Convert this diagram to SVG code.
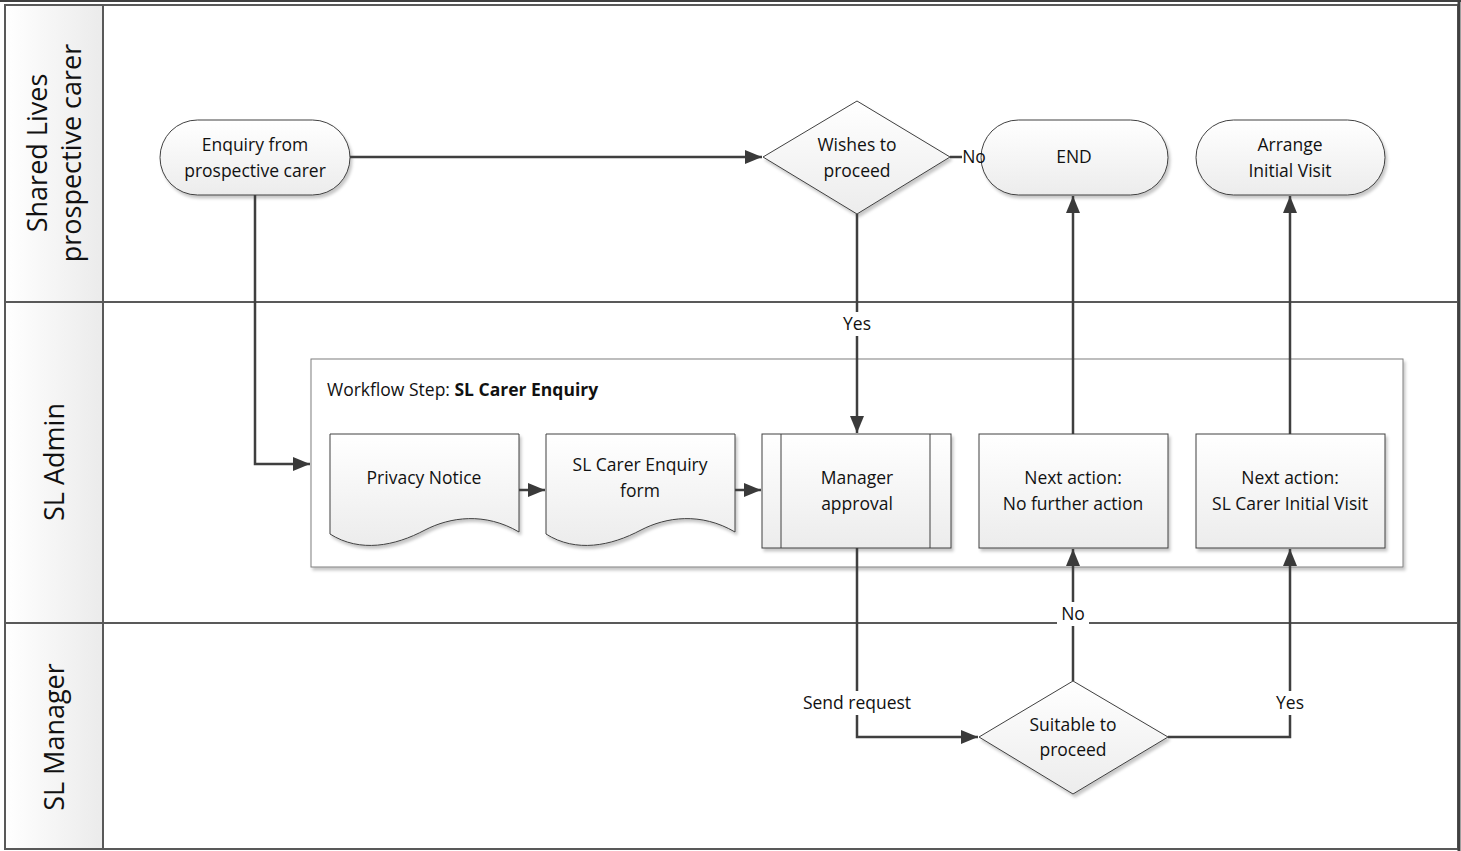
<svg xmlns="http://www.w3.org/2000/svg" width="1461" height="851" viewBox="0 0 1461 851">
<defs>
<linearGradient id="nodeFill" x1="0" y1="0" x2="0" y2="1"><stop offset="0" stop-color="#ffffff"/><stop offset="1" stop-color="#ececec"/></linearGradient>
<linearGradient id="hdrFill" x1="0" y1="0" x2="1" y2="0"><stop offset="0" stop-color="#ffffff"/><stop offset="1" stop-color="#ebebeb"/></linearGradient>
<filter id="sh" x="-10%" y="-10%" width="130%" height="130%"><feDropShadow dx="2" dy="3" stdDeviation="1.5" flood-color="#000" flood-opacity="0.22"/></filter>
<marker id="arr" markerWidth="17" markerHeight="14" viewBox="0 0 17 14" refX="17" refY="7" orient="auto" markerUnits="userSpaceOnUse"><path d="M0,0 L17,7 L0,14 z" fill="#3a3a3a"/></marker>
<style>
.lane{fill:none;stroke:#595959;stroke-width:2}
.hdr{fill:url(#hdrFill);stroke:#595959;stroke-width:2}
.node{fill:url(#nodeFill);stroke:#404040;stroke-width:1;filter:url(#sh)}
.cont{fill:#fff;stroke:#7f7f7f;stroke-width:1;filter:url(#sh)}
.t{font-family:"Open Sans","Liberation Sans",sans-serif;font-size:17.5px;fill:#111;text-anchor:middle}
.lt{font-family:"Open Sans","Liberation Sans",sans-serif;font-size:27px;fill:#111;text-anchor:middle}
.c{fill:none;stroke:#3f3f3f;stroke-width:2.5}
.lbl{font-family:"Open Sans","Liberation Sans",sans-serif;font-size:17.5px;fill:#111;text-anchor:middle}
</style>
</defs>
<rect width="1461" height="851" fill="#fff"/>
<g id="pool">
<line x1="0" y1="1" x2="1461" y2="1" stroke="#404040" stroke-width="2"/>
<rect class="hdr" x="5" y="5" width="98" height="297"/>
<rect class="hdr" x="5" y="302" width="98" height="321"/>
<rect class="hdr" x="5" y="623" width="98" height="226"/>
<rect class="lane" x="5" y="5" width="1453" height="844"/>
<line class="lane" x1="5" y1="302" x2="1458" y2="302"/>
<line class="lane" x1="5" y1="623" x2="1458" y2="623"/>
<line x1="1459" y1="0" x2="1459" y2="851" stroke="#404040" stroke-width="3"/>
<text class="lt" transform="translate(54,153) rotate(-90)"><tspan x="0" y="-7">Shared Lives</tspan><tspan x="0" y="27">prospective carer</tspan></text>
<text class="lt" transform="translate(64,462) rotate(-90)">SL Admin</text>
<text class="lt" transform="translate(64,737) rotate(-90)">SL Manager</text>
</g>
<g id="container">
<rect class="cont" x="311" y="359" width="1092" height="208"/>
<text x="327" y="396" font-family="'Open Sans','Liberation Sans',sans-serif" font-size="17.5" fill="#111">Workflow Step: <tspan font-weight="bold">SL Carer Enquiry</tspan></text>
</g>
<g id="enquiry">
<rect class="node" x="160" y="120" width="190" height="75" rx="37.5"/>
<text class="t"><tspan x="255" y="151">Enquiry from</tspan><tspan x="255" y="177">prospective carer</tspan></text>
</g>
<g id="wishes">
<polygon class="node" points="857,101 950,157 857,214 763,157"/>
<text class="t"><tspan x="857" y="151">Wishes to</tspan><tspan x="857" y="177">proceed</tspan></text>
</g>
<g id="end">
<rect class="node" x="981" y="120" width="187" height="75" rx="37.5"/>
<text class="t" x="1074" y="163">END</text>
</g>
<g id="arrange">
<rect class="node" x="1196" y="120" width="189" height="75" rx="37.5"/>
<text class="t"><tspan x="1290" y="151">Arrange</tspan><tspan x="1290" y="177">Initial Visit</tspan></text>
</g>
<g id="privacy">
<path class="node" d="M330,434 H519 V532 C485,512 450,517 425,530 C395,546 360,553 330,534 Z"/>
<text class="t" x="424" y="484">Privacy Notice</text>
</g>
<g id="enquiryform">
<path class="node" d="M546,434 H735 V532 C701,512 666,517 641,530 C611,546 576,553 546,534 Z"/>
<text class="t"><tspan x="640" y="471">SL Carer Enquiry</tspan><tspan x="640" y="497">form</tspan></text>
</g>
<g id="manager">
<rect class="node" x="762" y="434" width="189" height="114"/>
<line x1="781" y1="434" x2="781" y2="548" stroke="#404040" stroke-width="1"/>
<line x1="930" y1="434" x2="930" y2="548" stroke="#404040" stroke-width="1"/>
<text class="t"><tspan x="857" y="484">Manager</tspan><tspan x="857" y="510">approval</tspan></text>
</g>
<g id="nofurther">
<rect class="node" x="979" y="434" width="189" height="114"/>
<text class="t"><tspan x="1073" y="484">Next action:</tspan><tspan x="1073" y="510">No further action</tspan></text>
</g>
<g id="initialvisit">
<rect class="node" x="1196" y="434" width="189" height="114"/>
<text class="t"><tspan x="1290" y="484">Next action:</tspan><tspan x="1290" y="510">SL Carer Initial Visit</tspan></text>
</g>
<g id="suitable">
<polygon class="node" points="1073,681 1168,737 1073,794 979,737"/>
<text class="t"><tspan x="1073" y="731">Suitable to</tspan><tspan x="1073" y="756">proceed</tspan></text>
</g>
<g id="connectors">
<path class="c" d="M350,157 H762" marker-end="url(#arr)"/>
<path class="c" d="M255,195 V464 H310" marker-end="url(#arr)"/>
<path class="c" d="M519,490 H545" marker-end="url(#arr)"/>
<path class="c" d="M735,490 H761" marker-end="url(#arr)"/>
<path class="c" d="M857,214 V433" marker-end="url(#arr)"/>
<rect x="838" y="312" width="38" height="24" fill="#fff"/>
<text class="lbl" x="857" y="330">Yes</text>
<path class="c" d="M950,157 H962"/>
<text class="lbl" x="974" y="163">No</text>
<path class="c" d="M857,548 V737 H978" marker-end="url(#arr)"/>
<rect x="796" y="691" width="122" height="24" fill="#fff"/>
<text class="lbl" x="857" y="709">Send request</text>
<path class="c" d="M1073,681 V549" marker-end="url(#arr)"/>
<rect x="1057" y="602" width="32" height="24" fill="#fff"/>
<text class="lbl" x="1073" y="620">No</text>
<path class="c" d="M1168,737 H1290 V549" marker-end="url(#arr)"/>
<rect x="1271" y="691" width="38" height="24" fill="#fff"/>
<text class="lbl" x="1290" y="709">Yes</text>
<path class="c" d="M1073,434 V196" marker-end="url(#arr)"/>
<path class="c" d="M1290,434 V196" marker-end="url(#arr)"/>
</g>
</svg>
